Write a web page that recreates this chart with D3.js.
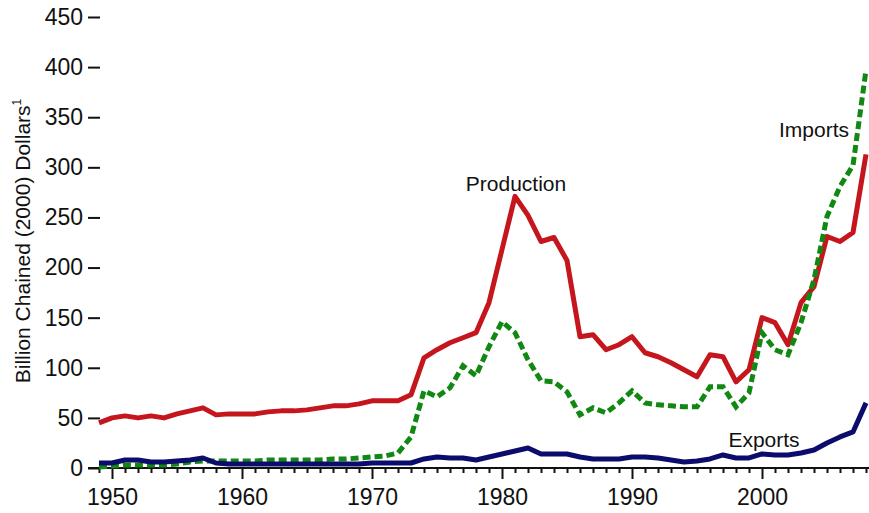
<!DOCTYPE html>
<html>
<head>
<meta charset="utf-8">
<script src="https://cdn.jsdelivr.net/npm/d3@7"></script>
<style>
  body { margin: 0; background: #ffffff; }
  svg text { font-family: "Liberation Sans", Arial, sans-serif; fill: #111; }
</style>
</head>
<body>
<div id="chart"></div>
<script>
// years 1949 - 2008
const years = d3.range(1949, 2009);

const production = [45, 50, 52, 50, 52, 50, 54, 57, 60, 53,
    54, 54, 54, 56, 57, 57, 58, 60, 62, 62,
    64, 67, 67, 67, 73, 110, 118, 125, 130, 135,
    165, 218, 271, 252, 226, 230, 207, 131, 133, 118,
    123, 131, 115, 111, 105, 98, 91, 113, 111, 86,
    98, 150, 145, 123, 165, 181, 231, 226, 235, 313];

const imports = [1, 2, 3, 3, 3, 3, 4, 6, 7, 7,
    7, 7, 7, 8, 8, 8, 8, 8, 9, 9,
    10, 11, 12, 15, 31, 77, 71, 80, 102, 92,
    121, 146, 135, 108, 87, 86, 76, 53, 60, 55,
    65, 77, 65, 63, 62, 61, 61, 81, 81, 61,
    75, 135, 118, 113, 145, 188, 251, 281, 302, 397];

const exportsData = [5, 5, 8, 8, 6, 6, 7, 8, 10, 5,
    4, 4, 4, 4, 4, 4, 4, 4, 4, 4,
    4, 5, 5, 5, 5, 9, 11, 10, 10, 8,
    11, 14, 17, 20, 14, 14, 14, 11, 9, 9,
    9, 11, 11, 10, 8, 6, 7, 9, 13, 10,
    10, 14, 13, 13, 15, 18, 25, 31, 36, 65];

const yTicks = [0, 50, 100, 150, 200, 250, 300, 350, 400, 450];

const width = 869;
const height = 513;

const svg = d3.select("#chart")
    .append("svg")
    .attr("width", width)
    .attr("height", height);

// 比例尺
const x = d3.scaleLinear().domain([1949, 2008]).range([99, 866]);
const y = d3.scaleLinear().domain([0, 450]).range([468, 17]);

// y 軸 (只有刻度，沒有軸線)
svg.append("g")
    .attr("transform", "translate(100,0)")
    .call(d3.axisLeft(y).tickValues(yTicks).tickSize(12).tickPadding(5))
    .call(g => g.select(".domain").remove())
    .call(g => g.selectAll(".tick line").attr("stroke", "#111").attr("stroke-width", 2))
    .call(g => g.selectAll(".tick text")
        .attr("font-size", "23px")
        .attr("font-family", "Liberation Sans, Arial, sans-serif")
        .attr("fill", "#111"));

// x 軸
svg.append("line")
    .attr("x1", 88)
    .attr("x2", 869)
    .attr("y1", y(0))
    .attr("y2", y(0))
    .attr("stroke", "#111")
    .attr("stroke-width", 2);

svg.append("g")
    .attr("transform", `translate(0,${y(0)})`)
    .call(d3.axisBottom(x).tickValues(years).tickSizeOuter(0).tickFormat(d3.format("d")))
    .call(g => g.select(".domain").remove())
    .call(g => g.selectAll(".tick line")
        .attr("stroke", "#111")
        .attr("stroke-width", 2)
        .attr("y2", d => d % 10 === 0 ? 11 : 5))
    .call(g => g.selectAll(".tick text")
        .attr("y", 21)
        .attr("font-size", "23px")
        .attr("font-family", "Liberation Sans, Arial, sans-serif")
        .attr("fill", "#111")
        .style("display", d => d % 10 === 0 ? null : "none"));

// y 軸標題
const title = svg.append("text")
    .attr("transform", "rotate(-90)")
    .attr("x", -241)
    .attr("y", 30)
    .attr("text-anchor", "middle")
    .attr("font-size", "21px");
title.append("tspan").text("Billion Chained (2000) Dollars");
title.append("tspan").attr("font-size", "12px").attr("dy", -9).text("1");

// 折線
const line = d3.line()
    .x((d, i) => x(years[i]))
    .y(d => y(d));

svg.append("path")
    .datum(production)
    .attr("fill", "none")
    .attr("stroke", "#c4161c")
    .attr("stroke-width", 5)
    .attr("stroke-linejoin", "round")
    .attr("d", line);

svg.append("path")
    .datum(imports)
    .attr("fill", "none")
    .attr("stroke", "#118811")
    .attr("stroke-width", 5)
    .attr("stroke-dasharray", "8,4")
    .attr("d", line);

svg.append("path")
    .datum(exportsData)
    .attr("fill", "none")
    .attr("stroke", "#0c0c6c")
    .attr("stroke-width", 5)
    .attr("stroke-linejoin", "round")
    .attr("d", line);

// 標籤
const labels = [
    { text: "Production", x: 516, y: 191 },
    { text: "Imports", x: 814, y: 137 },
    { text: "Exports", x: 764, y: 447 }
];

svg.selectAll(".series-label")
    .data(labels)
    .enter()
    .append("text")
    .attr("class", "series-label")
    .attr("x", d => d.x)
    .attr("y", d => d.y)
    .attr("text-anchor", "middle")
    .attr("font-size", "21px")
    .text(d => d.text);
</script>
</body>
</html>
